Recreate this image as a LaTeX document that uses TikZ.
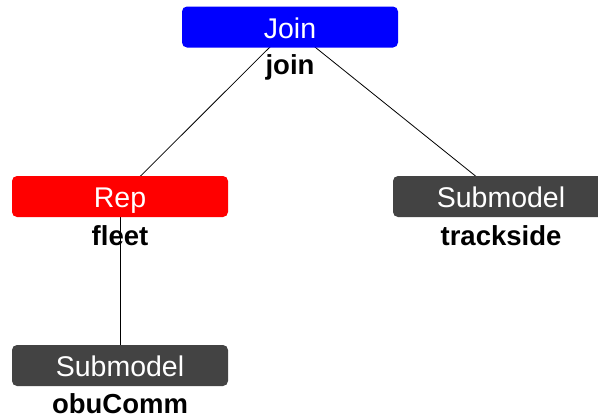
\documentclass[tikz,border=0pt]{standalone}
\usepackage{fontspec}
\setmainfont{Liberation Sans}
\definecolor{subgray}{RGB}{67,67,67}
\tikzset{
  box/.style={draw=none, rounded corners=5pt, minimum width=216pt, minimum height=41pt,
    inner sep=0pt, text=white, font=\fontsize{28.5}{28.5}\selectfont, text height=22pt, text depth=0pt},
  joinbox/.style={box, fill=blue},
  repbox/.style={box, fill=red},
  subbox/.style={box, fill=subgray},
  lbl/.style={anchor=base, inner sep=0pt, font=\fontsize{27.5}{27.5}\selectfont\bfseries},
  edge/.style={draw=black, line width=0.8pt}
}
\begin{document}
\begin{tikzpicture}[x=1pt,y=-1pt]
\useasboundingbox (0,0) rectangle (598,418);
\coordinate (cj) at (290,27);
\coordinate (cr) at (120,196.5);
\coordinate (ct) at (501,196.5);
\coordinate (co) at (120,365.5);
\draw[edge] (cj) -- (cr);
\draw[edge] (cj) -- (ct);
\draw[edge] (cr) -- (co);
\node[joinbox] (join) at (cj) {Join};
\node[repbox] (rep) at (cr) {Rep};
\node[subbox] (track) at (ct) {Submodel};
\node[subbox] (obu) at (co) {Submodel};
\node[lbl] (ljoin) at ([yshift=-27pt]join.south) {join};
\node[lbl] (lrep) at ([yshift=-28pt]rep.south) {fleet};
\node[lbl] (ltrack) at ([yshift=-28pt]track.south) {trackside};
\node[lbl] (lobu) at ([yshift=-27pt]obu.south) {obuComm};
\end{tikzpicture}
\end{document}
